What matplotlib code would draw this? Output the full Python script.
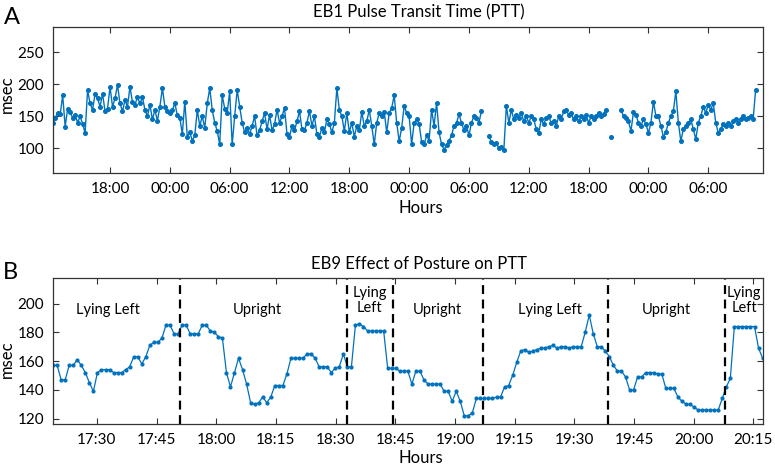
import numpy as np
import matplotlib.pyplot as plt

BLUE = '#0072BD'
nan = np.nan

# EB1 PTT (msec), one value every 15 min starting at 12:15 on day 1
ptt_start_hour = 12.25
ptt_step_hour = 0.25
ptt_values = [
    140, 148, 155,
    153, 183, 134, 162,
    156, 148, 152, 140,
    150, 138, 124, 191,
    170, 160, 185, 178,
    165, 185, 158, 162,
    196, 165, 178, 199,
    170, 158, 175, 165,
    196, 172, 168, 180,
    170, 180, 160, 150,
    168, 145, 160, 143,
    165, 194, 165, 158,
    155, 160, 170, 152,
    148, 122, 173, 118,
    125, 112, 120, 160,
    135, 150, 132, 170,
    194, 160, 140, 127,
    106, 183, 162, 155,
    189, 106, 150, 191,
    165, 140, 125, 132,
    122, 135, 150, 120,
    128, 142, 155, 130,
    152, 128, 138, 160,
    140, 150, 163, 122,
    118, 135, 128, 142,
    158, 130, 128, 140,
    158, 135, 150, 122,
    118, 132, 125, 145,
    138, 125, 140, 194,
    160, 150, 127, 155,
    125, 140, 118, 135,
    128, 157, 135, 142,
    160, 135, 106, 140,
    155, 150, 157, 125,
    155, 163, 183, 140,
    111, 132, 166, 155,
    150, 106, 140, 145,
    138, 110, 106, 120,
    112, 160, 135, 171,
    125, 106, 98, 105,
    112, 120, 135, 140,
    153, 140, 128, 135,
    120, 140, 150, 148,
    140, 158, nan, nan,
    119, 110, 106, 108,
    100, 102, 98, 166,
    140, 160, 145, 152,
    148, 155, 142, 150,
    140, 150, 145, 130,
    124, 145, 138, 147,
    150, 140, 143, 135,
    150, 145, 158, 160,
    152, 155, 145, 150,
    142, 150, 145, 152,
    140, 150, 145, 150,
    155, 150, 153, 160,
    nan, 118, nan, nan,
    nan, 160, 150, 148,
    142, 127, 157, 152,
    140, 135, 145, 138,
    124, 140, 173, 150,
    150, 135, 118, 125,
    140, 150, 158, 189,
    140, 111, 130, 135,
    140, 145, 130, 114,
    140, 150, 165, 155,
    168, 160, 171, 140,
    124, 130, 138, 135,
    140, 135, 142, 145,
    140, 145, 150, 145,
    148, 150, 145, 191,
]
top_tick_hours = [18, 24, 30, 36, 42, 48, 54, 60, 66, 72, 78]
top_tick_labels = ['18:00', '00:00', '06:00', '12:00', '18:00', '00:00',
                   '06:00', '12:00', '18:00', '00:00', '06:00']

# EB9 PTT (msec), about one value per minute, minutes after 17:00
posture_first_min = 19.0
posture_last_min = 197.3
posture_values = [
    157, 157, 147, 147, 157, 157, 161, 157, 152, 145,
    139, 152, 154, 154, 154, 152, 152, 152, 154, 156,
    163, 163, 158, 163, 171, 173, 173, 176, 185, 185,
    179, 179, 185, 185, 179, 179, 179, 185, 185, 181,
    180, 177, 176, 152, 142, 152, 162, 154, 144, 131,
    130, 131, 135, 131, 135, 143, 143, 143, 151, 162,
    162, 162, 162, 165, 165, 162, 156, 156, 156, 152,
    155, 156, 165, 156, 156, 185, 186, 184, 181, 181,
    181, 181, 181,
    155, 155, 155, 153, 153, 153, 144, 153, 153, 147,
    144, 144, 144, 144, 139, 139, 132, 139, 132, 122,
    122, 124, 134, 134, 134, 134, 134, 135, 135, 142,
    143, 150, 159, 167, 168, 166, 167, 168, 169, 169,
    170, 171, 169, 170, 170, 169, 170, 170, 170, 180,
    192, 179, 170, 170, 167, 163, 157, 153, 153, 149,
    140, 140, 149, 149, 152, 152, 152, 151, 151, 141,
    141, 141, 135, 132, 130, 130, 128, 126, 126, 126,
    126, 126, 126, 134, 142, 148, 184, 184, 184, 184,
    184, 184, 169, 162,
]
posture_changes = [50.9, 92.8, 104.3, 127.0, 158.4, 187.9]
posture_labels = ['Lying Left', 'Upright', 'Lying\nLeft', 'Upright',
                  'Lying Left', 'Upright', 'Lying\nLeft']
label_minutes = [32.8, 70.2, 98.5, 115.6, 143.9, 173.2, 192.7]
bottom_tick_minutes = [30, 45, 60, 75, 90, 105, 120, 135, 150, 165, 180, 195]
bottom_tick_labels = ['17:30', '17:45', '18:00', '18:15', '18:30', '18:45',
                      '19:00', '19:15', '19:30', '19:45', '20:00', '20:15']

plt.rcParams['font.family'] = ['Lato', 'DejaVu Sans']
plt.rcParams['axes.edgecolor'] = '#333333'
plt.rcParams['axes.linewidth'] = 0.9


def style_axes(ax):
    ax.tick_params(direction='in', top=True, right=True, length=4,
                   width=0.8, color='#333333', labelsize=11, pad=6)


fig = plt.figure(figsize=(7.75, 4.67), dpi=100)

# panel A
ax1 = fig.add_axes([0.068, 0.629, 0.916, 0.3125])
hours = ptt_start_hour + ptt_step_hour * np.arange(len(ptt_values))
ax1.plot(hours, ptt_values, '-o', color=BLUE, lw=1.0, ms=2.6)
ax1.set_xlim(12.25, 83.45)
ax1.set_ylim(61, 289)
ax1.set_yticks([100, 150, 200, 250])
ax1.set_xticks(top_tick_hours)
ax1.set_xticklabels(top_tick_labels)
style_axes(ax1)
ax1.set_title('EB1 Pulse Transit Time (PTT)', fontsize=12, pad=7)
ax1.title.set_x(0.516)
ax1.set_ylabel('msec', fontsize=12)
ax1.set_xlabel('Hours', fontsize=12)
ax1.yaxis.set_label_coords(-0.053, 0.541)
ax1.xaxis.set_label_coords(0.518, -0.185)
fig.text(0.005, 0.985, 'A', fontsize=17, va='top')

# panel B
ax2 = fig.add_axes([0.068, 0.0914, 0.917, 0.314])
minutes = np.linspace(posture_first_min, posture_last_min, len(posture_values))
ax2.plot(minutes, posture_values, '-o', color=BLUE, lw=0.9, ms=2.0)
for m in posture_changes:
    ax2.axvline(m, color='black', lw=1.6, ls=(0, (4, 2.5)))
for m, lab in zip(label_minutes, posture_labels):
    ax2.text(m, 202 if '\n' in lab else 195.5, lab, ha='center', va='center',
             fontsize=10.5, linespacing=1.1)
ax2.set_xlim(18.9, 197.5)
ax2.set_ylim(116, 218)
ax2.set_yticks([120, 140, 160, 180, 200])
ax2.set_xticks(bottom_tick_minutes)
ax2.set_xticklabels(bottom_tick_labels)
style_axes(ax2)
ax2.set_title('EB9 Effect of Posture on PTT', fontsize=12, pad=6)
ax2.title.set_x(0.516)
ax2.set_ylabel('msec', fontsize=12)
ax2.set_xlabel('Hours', fontsize=12)
ax2.yaxis.set_label_coords(-0.053, 0.445)
ax2.xaxis.set_label_coords(0.518, -0.178)
fig.text(0.004, 0.44, 'B', fontsize=17, va='top')

fig.savefig('out.png', dpi=100)
